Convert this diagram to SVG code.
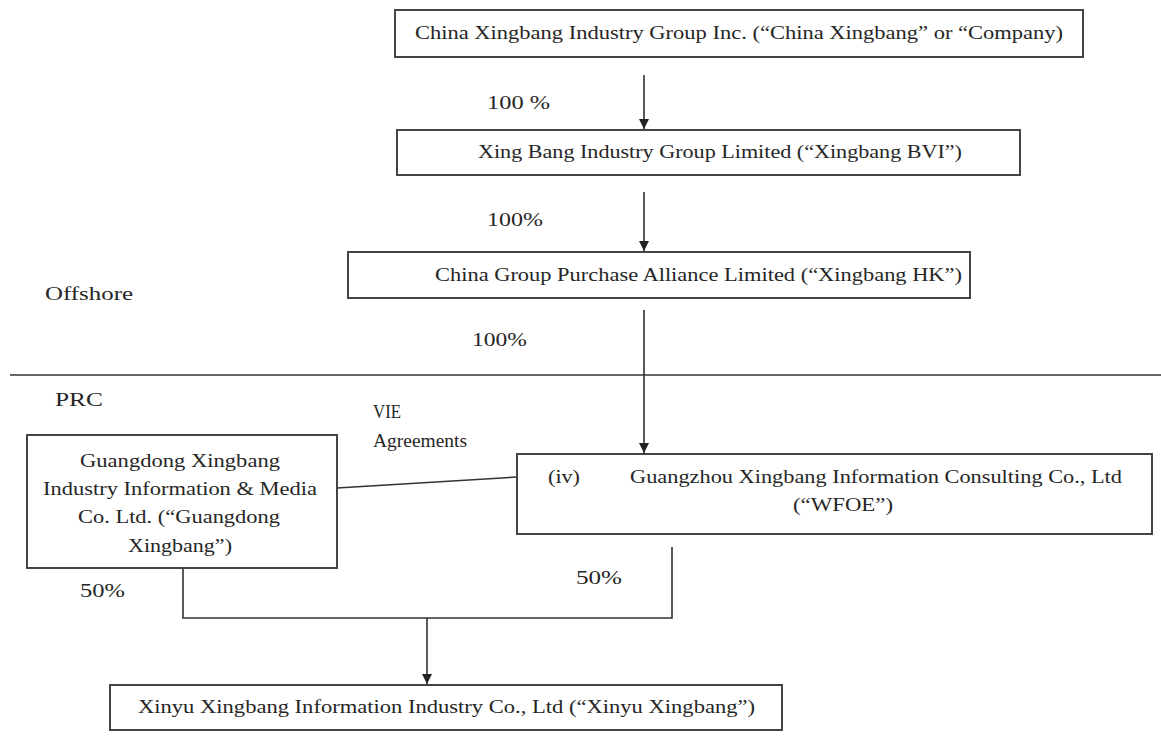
<svg xmlns="http://www.w3.org/2000/svg" width="1161" height="738" viewBox="0 0 1161 738">
<style>
text{font-family:"Liberation Serif","Times New Roman",serif;font-size:18px;fill:#262626}
.box{fill:#fff;stroke:#444;stroke-width:2}
.ln{fill:none;stroke:#333;stroke-width:1.6}
</style>
<defs>
<marker id="ah" viewBox="0 0 10 10" refX="10" refY="5" markerWidth="10" markerHeight="10" markerUnits="userSpaceOnUse" orient="auto">
<path d="M0,0 L10,5 L0,10 z" fill="#222"/>
</marker>
</defs>
<rect width="1161" height="738" fill="#fff"/>
<g id="connectors">
<line class="ln" x1="644" y1="75" x2="644" y2="129" marker-end="url(#ah)"/>
<line class="ln" x1="644" y1="192" x2="644" y2="251" marker-end="url(#ah)"/>
<line class="ln" x1="644" y1="310" x2="644" y2="453" marker-end="url(#ah)"/>
<line class="ln" x1="337" y1="488" x2="517" y2="477"/>
<polyline class="ln" points="183,558 183,618 672,618 672,547"/>
<line class="ln" x1="427" y1="618" x2="427" y2="684" marker-end="url(#ah)"/>
</g>
<line class="ln" x1="10" y1="375" x2="1161" y2="375"/>
<g id="labels">
<text x="487" y="109" textLength="63" lengthAdjust="spacingAndGlyphs">100 %</text>
<text x="487" y="226" textLength="56" lengthAdjust="spacingAndGlyphs">100%</text>
<text x="45" y="300" textLength="88" lengthAdjust="spacingAndGlyphs">Offshore</text>
<text x="472" y="346" textLength="55" lengthAdjust="spacingAndGlyphs">100%</text>
<text x="55" y="406" textLength="48" lengthAdjust="spacingAndGlyphs">PRC</text>
<text x="373" y="418" textLength="28" lengthAdjust="spacingAndGlyphs">VIE</text>
<text x="373" y="447" textLength="94" lengthAdjust="spacingAndGlyphs">Agreements</text>
<text x="80" y="597" textLength="45" lengthAdjust="spacingAndGlyphs">50%</text>
<text x="576" y="584" textLength="46" lengthAdjust="spacingAndGlyphs">50%</text>
</g>
<g id="china-xingbang">
<rect class="box" x="395" y="10" width="688" height="47"/>
<text x="415" y="39" textLength="648" lengthAdjust="spacingAndGlyphs">China Xingbang Industry Group Inc. (“China Xingbang” or “Company)</text>
</g>
<g id="xingbang-bvi">
<rect class="box" x="397" y="130" width="623" height="45"/>
<text x="478" y="158" textLength="484" lengthAdjust="spacingAndGlyphs">Xing Bang Industry Group Limited  (“Xingbang BVI”)</text>
</g>
<g id="xingbang-hk">
<rect class="box" x="348" y="252" width="622" height="46"/>
<text x="435" y="281" textLength="527" lengthAdjust="spacingAndGlyphs">China Group Purchase Alliance Limited (“Xingbang HK”)</text>
</g>
<g id="guangdong-xingbang">
<rect class="box" x="27" y="435" width="310" height="133"/>
<text x="80" y="467" textLength="200" lengthAdjust="spacingAndGlyphs">Guangdong Xingbang</text>
<text x="43" y="495" textLength="274" lengthAdjust="spacingAndGlyphs">Industry Information &amp; Media</text>
<text x="78" y="523" textLength="202" lengthAdjust="spacingAndGlyphs">Co. Ltd. (“Guangdong</text>
<text x="128" y="552" textLength="104" lengthAdjust="spacingAndGlyphs">Xingbang”)</text>
</g>
<g id="wfoe">
<rect class="box" x="517" y="454" width="635" height="80"/>
<text x="548" y="483" textLength="32" lengthAdjust="spacingAndGlyphs">(iv)</text>
<text x="630" y="483" textLength="492" lengthAdjust="spacingAndGlyphs">Guangzhou Xingbang Information Consulting Co., Ltd</text>
<text x="793" y="511" textLength="100" lengthAdjust="spacingAndGlyphs">(“WFOE”)</text>
</g>
<g id="xinyu-xingbang">
<rect class="box" x="110" y="685" width="672" height="45"/>
<text x="138" y="713" textLength="617" lengthAdjust="spacingAndGlyphs">Xinyu Xingbang Information Industry Co., Ltd (“Xinyu Xingbang”)</text>
</g>
</svg>
